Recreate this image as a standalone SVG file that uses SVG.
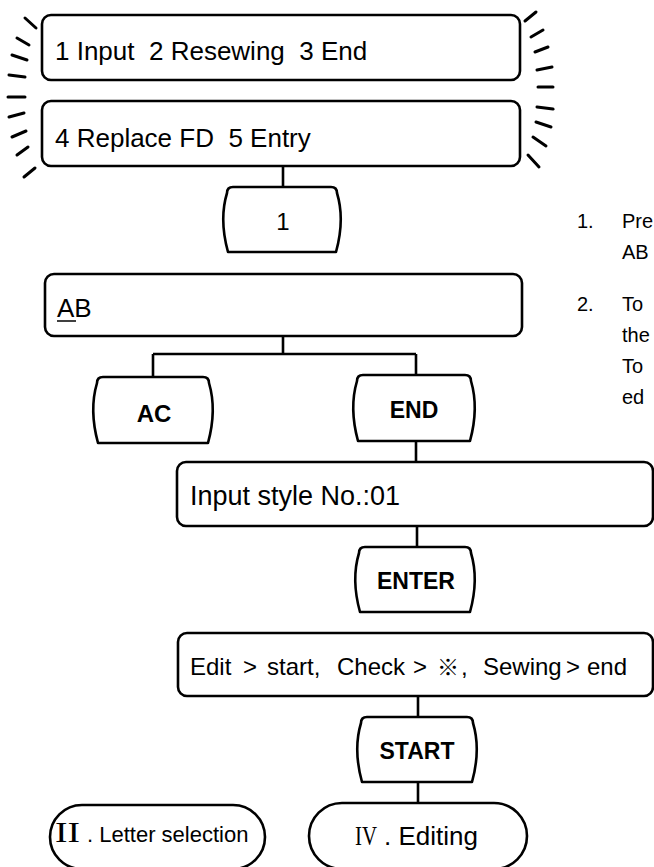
<svg xmlns="http://www.w3.org/2000/svg" width="654" height="867" viewBox="0 0 654 867">
<style>
  .box { fill: #fff; stroke: #000; stroke-width: 2.6; }
  .key { fill: #fff; stroke: #000; stroke-width: 2.6; stroke-linejoin: round; }
  .conn { fill: none; stroke: #000; stroke-width: 2.6; }
  .flash { stroke: #000; stroke-width: 3; stroke-linecap: round; }
  .t { font-family: "Liberation Sans", Arial, sans-serif; font-size: 26px; fill: #000; }
  .k { font-family: "Liberation Sans", Arial, sans-serif; font-size: 23px; font-weight: bold; fill: #000; text-anchor: middle; }
  .note { font-family: "Liberation Sans", Arial, sans-serif; font-size: 20px; fill: #000; }
  .rom { font-family: "Liberation Serif", "Times New Roman", serif; fill: #000; }
</style>

<g id="connectors">
  <path class="conn" d="M283 166 V187"/>
  <path class="conn" d="M283 336 V354 M153 354 H416 M153 354 V377 M416 354 V375"/>
  <path class="conn" d="M416 441 V462"/>
  <path class="conn" d="M417 526 V547"/>
  <path class="conn" d="M418 696 V717"/>
  <path class="conn" d="M418 782 V803"/>
</g>

<g id="flash-left">
  <line class="flash" x1="25" y1="18" x2="36" y2="28"/>
  <line class="flash" x1="17" y1="38" x2="29" y2="45"/>
  <line class="flash" x1="12" y1="55" x2="27" y2="60"/>
  <line class="flash" x1="9" y1="75" x2="25" y2="77"/>
  <line class="flash" x1="8" y1="97" x2="25" y2="97"/>
  <line class="flash" x1="9" y1="117" x2="24" y2="113"/>
  <line class="flash" x1="12" y1="137" x2="26" y2="131"/>
  <line class="flash" x1="17" y1="155" x2="28" y2="147"/>
  <line class="flash" x1="24" y1="177" x2="35" y2="168"/>
</g>
<g id="flash-right">
  <line class="flash" x1="525" y1="21" x2="536" y2="12"/>
  <line class="flash" x1="531" y1="37" x2="543" y2="30"/>
  <line class="flash" x1="535" y1="52" x2="548" y2="47"/>
  <line class="flash" x1="537" y1="70" x2="552" y2="67"/>
  <line class="flash" x1="538" y1="87" x2="553" y2="87"/>
  <line class="flash" x1="537" y1="107" x2="553" y2="109"/>
  <line class="flash" x1="536" y1="122" x2="551" y2="127"/>
  <line class="flash" x1="533" y1="137" x2="546" y2="146"/>
  <line class="flash" x1="528" y1="155" x2="539" y2="167"/>
</g>

<g id="menu1">
  <rect class="box" x="42" y="15" width="478" height="65" rx="9"/>
  <text class="t" x="55" y="60" xml:space="preserve">1 Input  2 Resewing  3 End</text>
</g>
<g id="menu2">
  <rect class="box" x="42" y="101" width="478" height="65" rx="9"/>
  <text class="t" x="55" y="147" xml:space="preserve">4 Replace FD  5 Entry</text>
</g>

<g id="key-1">
  <path class="key" d="M233 187 H331 Q337 187 337 193 Q345 219.5 336 252 H228 Q219 219.5 227 193 Q227 187 233 187 Z"/>
  <text class="t" x="283" y="230" text-anchor="middle" style="font-size:24px">1</text>
</g>

<g id="display-ab">
  <rect class="box" x="45" y="274" width="477" height="62" rx="9"/>
  <text class="t" x="57" y="317">AB</text>
  <line x1="57" y1="321" x2="76" y2="321" stroke="#000" stroke-width="1.5"/>
</g>

<g id="key-ac">
  <path class="key" d="M103 377 H203 Q209 377 209 383 Q217 410 208 443 H98 Q89 410 97 383 Q97 377 103 377 Z"/>
  <text class="k" x="154" y="422" style="font-size:24px">AC</text>
</g>

<g id="key-end">
  <path class="key" d="M363 375 H465 Q471 375 471 381 Q479 408 470 441 H358 Q349 408 357 381 Q357 375 363 375 Z"/>
  <text class="k" x="414" y="418">END</text>
</g>

<g id="display-input">
  <rect class="box" x="177" y="462" width="476" height="64" rx="9"/>
  <text class="t" x="190" y="505" style="font-size:27px">Input style No.:01</text>
</g>

<g id="key-enter">
  <path class="key" d="M365 547 H465 Q471 547 471 553 Q479 579.5 470 612 H360 Q351 579.5 359 553 Q359 547 365 547 Z"/>
  <text class="k" x="416" y="589">ENTER</text>
</g>

<g id="display-edit">
  <rect class="box" x="178" y="633" width="475" height="63" rx="9"/>
  <text class="t" y="675" style="font-size:24px"><tspan x="190">Edit</tspan><tspan x="243">&gt;</tspan><tspan x="267">start,</tspan><tspan x="337">Check</tspan><tspan x="413">&gt;</tspan><tspan x="437" style="font-family:'Noto Sans CJK JP', sans-serif; font-size:22px">※</tspan><tspan x="461">,</tspan><tspan x="483">Sewing</tspan><tspan x="566">&gt;</tspan><tspan x="587">end</tspan></text>
</g>

<g id="key-start">
  <path class="key" d="M367 717 H467 Q473 717 473 723 Q481 749.5 472 782 H362 Q353 749.5 361 723 Q361 717 367 717 Z"/>
  <text class="k" x="417" y="759">START</text>
</g>

<g id="term-letter">
  <rect class="box" x="50" y="805" width="215" height="64" rx="32"/>
  <text y="842"><tspan class="rom" x="55" style="font-size:30px" textLength="25" lengthAdjust="spacingAndGlyphs">II</tspan><tspan class="t" x="87" style="font-size:22px">. Letter selection</tspan></text>
</g>

<g id="term-editing">
  <rect class="box" x="309" y="803" width="218" height="66" rx="33"/>
  <text y="845"><tspan class="rom" x="355" style="font-size:28px" textLength="22" lengthAdjust="spacingAndGlyphs">IV</tspan><tspan class="t" x="384">. Editing</tspan></text>
</g>

<g id="notes">
  <text class="note" x="577" y="228">1.</text>
  <text class="note" x="622" y="228">Pre</text>
  <text class="note" x="622" y="259">AB</text>
  <text class="note" x="577" y="311">2.</text>
  <text class="note" x="622" y="311">To</text>
  <text class="note" x="622" y="342">the</text>
  <text class="note" x="622" y="373">To</text>
  <text class="note" x="622" y="404">ed</text>
</g>
</svg>
